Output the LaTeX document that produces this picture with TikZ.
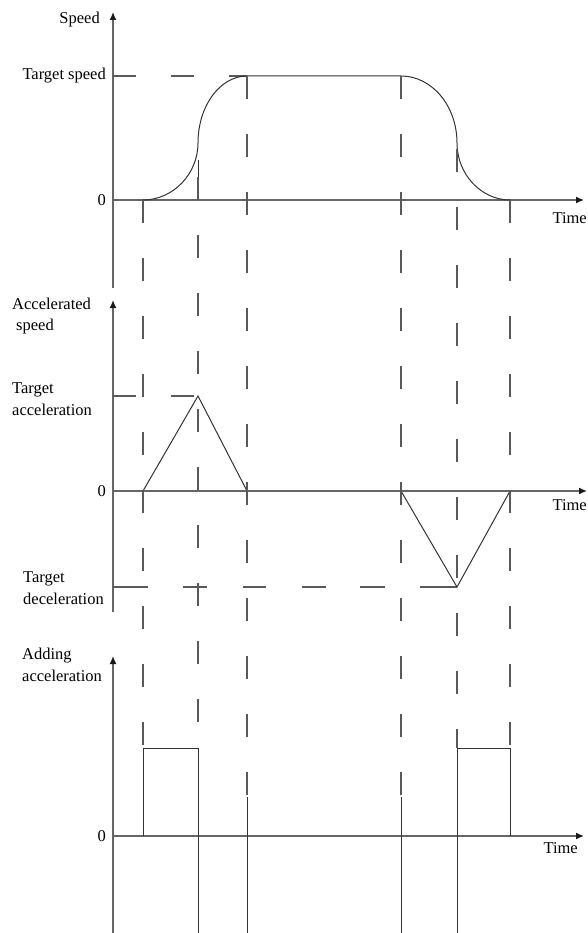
\documentclass[tikz,border=0pt]{standalone}
\usepackage{fontspec}
\setmainfont{Liberation Serif}
\usetikzlibrary{arrows.meta}

\begin{document}
\begin{tikzpicture}[x=1pt,y=-1pt,font=\fontsize{16.5}{21.5}\selectfont]
    \tikzstyle{axis} = [draw=black!60,line width=1.4pt,-{Latex[length=8pt,width=7pt,color=black!90]}]
    \tikzstyle{curve} = [draw=black!80,line width=1pt]
    \tikzstyle{guide} = [draw=black!65,line width=1.1pt,dash pattern=on 23pt off 35pt]
    \tikzstyle{label} = [inner sep=0pt,align=left]
    \useasboundingbox (0,0) rectangle (587,933);

    % speed
    \coordinate (speedOrigin) at (113,200);
    \coordinate (speedTop) at (113,12);
    \coordinate (speedBottom) at (113,288);
    \coordinate (speedEnd) at (584,200);
    \draw[axis] (speedBottom) -- (speedTop);
    \draw[axis] (speedOrigin) -- (speedEnd);
    \node[label,anchor=base east] (speedName) at (100,24) {Speed};
    \node[label,anchor=base east] (targetSpeed) at (106,80) {Target speed};
    \node[label,anchor=base east] (speedZero) at (106,206) {0};
    \node[label,anchor=base east] (speedTime) at (587,223) {Time};
    \draw[guide] (113,76) -- (247,76);
    \draw[curve] (143,200) .. controls (173,200) and (198,174) .. (198,143)
        .. controls (198,106) and (220,76) .. (247,76) -- (401,76)
        .. controls (432,76) and (457,106) .. (457,143)
        .. controls (457,174) and (481,200) .. (510,200);
    \draw[curve] (198,160) -- (198,200);

    % accelerated speed
    \coordinate (accOrigin) at (113,491);
    \coordinate (accTop) at (113,300);
    \coordinate (accBottom) at (113,612);
    \coordinate (accEnd) at (587,491);
    \draw[axis] (accBottom) -- (accTop);
    \draw[axis] (accOrigin) -- (accEnd);
    \node[label,anchor=west] (accName) at (12,316) {Accelerated\\\hspace{4pt}speed};
    \node[label,anchor=west] (targetAcc) at (12,399) {Target\\acceleration};
    \node[label,anchor=west] (targetDec) at (23,588) {Target\\deceleration};
    \node[label,anchor=base east] (accZero) at (106,496) {0};
    \node[label,anchor=base east] (accTime) at (587,510) {Time};
    \draw[guide] (113,396) -- (198,396);
    \draw[guide,dash pattern=on 35pt off 35pt on 24pt off 36pt on 23pt off 36pt on 24pt off 34pt on 25pt off 35pt on 37pt off 10pt] (113,587) -- (457,587);
    \draw[curve] (143,491) -- (198,396) -- (247,491);
    \draw[curve] (401,491) -- (457,587) -- (510,491);

    % adding acceleration
    \coordinate (addOrigin) at (113,836);
    \coordinate (addTop) at (113,656);
    \coordinate (addBottom) at (113,933);
    \coordinate (addEnd) at (584,836);
    \draw[axis] (addBottom) -- (addTop);
    \draw[axis] (addOrigin) -- (addEnd);
    \node[label,anchor=west] (addName) at (22,665) {Adding\\acceleration};
    \node[label,anchor=base east] (addZero) at (106,841) {0};
    \node[label,anchor=base east] (addTime) at (578,853) {Time};
    \draw[curve] (143,836) -- (143,748) -- (198,748) -- (198,933);
    \draw[curve] (457,933) -- (457,748) -- (510,748) -- (510,836);
    \draw[curve] (247,797) -- (247,933);
    \draw[curve] (401,797) -- (401,933);

    % time marks
    \foreach \x/\ya/\yb in {143/200/748,198/177/748,247/76/797,401/76/797,457/149/748,510/200/748}
        \draw[guide] (\x,\ya) -- (\x,\yb);
\end{tikzpicture}
\end{document}
